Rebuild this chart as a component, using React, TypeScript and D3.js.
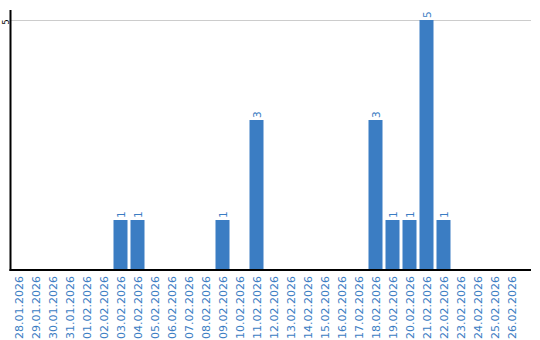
import React from "react";
import * as d3 from "d3";

const categories: string[] = [
  "28.01.2026", "29.01.2026", "30.01.2026", "31.01.2026",
  "01.02.2026", "02.02.2026", "03.02.2026", "04.02.2026", "05.02.2026", "06.02.2026",
  "07.02.2026", "08.02.2026", "09.02.2026", "10.02.2026", "11.02.2026", "12.02.2026",
  "13.02.2026", "14.02.2026", "15.02.2026", "16.02.2026", "17.02.2026", "18.02.2026",
  "19.02.2026", "20.02.2026", "21.02.2026", "22.02.2026", "23.02.2026", "24.02.2026",
  "25.02.2026", "26.02.2026",
];
const values: number[] = [
  0, 0, 0, 0,
  0, 0, 1, 1, 0, 0,
  0, 0, 1, 0, 3, 0,
  0, 0, 0, 0, 0, 3,
  1, 1, 5, 1, 0, 0,
  0, 0,
];
const yTicks: number[] = [5];

const W = 540;
const H = 340;
const BLUE = "#3b7dc3";
const FONT = "DejaVu Sans, Verdana, sans-serif";

export default function App() {
  const x = d3
    .scaleBand<string>()
    .domain(categories)
    .range([10, 520])
    .paddingInner(3 / 17)
    .paddingOuter(1.5 / 17);
  const y = d3.scaleLinear().domain([0, 5]).range([270, 20]);
  const axisLeft = 10.5;
  const axisRight = 531;

  return (
    <svg
      width={W}
      height={H}
      style={{ position: "absolute", left: 0, top: 0, display: "block" }}
    >
      {yTicks.map((t) => (
        <g key={t}>
          <line x1={axisLeft} x2={axisRight} y1={y(t) + 0.5} y2={y(t) + 0.5} stroke="#cccccc" strokeWidth={1} />
          <text
            transform={`translate(9,${y(t) + 2}) rotate(-90)`}
            textAnchor="middle"
            fontFamily={FONT}
            fontSize={8}
            fill="#000"
          >
            {t}
          </text>
        </g>
      ))}
      {categories.map((c, i) => {
        const v = values[i];
        if (!v) return null;
        const bx = x(c)!;
        const cx = bx + x.bandwidth() / 2;
        return (
          <g key={c}>
            <rect x={bx} y={y(v)} width={x.bandwidth()} height={y(0) - y(v)} fill={BLUE} />
            <text
              transform={`translate(${cx + 4},${y(v) - 2}) rotate(-90)`}
              textAnchor="start"
              fontFamily={FONT}
              fontSize={10.5}
              fill={BLUE}
            >
              {v}
            </text>
          </g>
        );
      })}
      <line x1={axisLeft} x2={axisLeft} y1={10} y2={271} stroke="#000" strokeWidth={2} />
      <line x1={axisLeft - 1} x2={axisRight} y1={270} y2={270} stroke="#000" strokeWidth={2} />
      {categories.map((c) => {
        const cx = x(c)! + x.bandwidth() / 2;
        return (
          <text
            key={c}
            transform={`translate(${cx + 4},276) rotate(-90)`}
            textAnchor="end"
            fontFamily={FONT}
            fontSize={11}
            fill={BLUE}
          >
            {c}
          </text>
        );
      })}
    </svg>
  );
}
